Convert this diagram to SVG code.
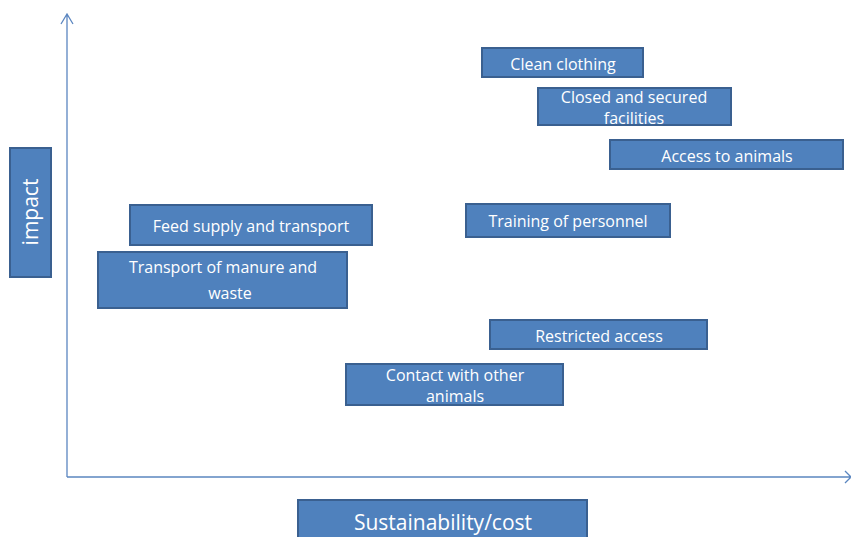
<svg xmlns="http://www.w3.org/2000/svg" width="851" height="537" viewBox="0 0 851 537">
<style>
.box{fill:#4F81BD;stroke:#3A6090;stroke-width:2}
.t{font-family:"Open Sans","Liberation Sans",sans-serif;font-size:16px;fill:#fff;text-anchor:middle}
.big{font-size:21px}
.ax{stroke:#5B86C0;stroke-width:1.3;fill:none}
</style>
<rect width="851" height="537" fill="#fff"/>
<g id="axes">
<path class="ax" d="M67,477 V14 M61,24 L67,14 L73,24"/>
<path class="ax" d="M67,477 H850 M845,471 L851,477 L845,483"/>
</g>
<g id="impact"><rect class="box" x="10" y="148" width="41" height="129"/><text class="t big" transform="translate(38,212) rotate(-90)">impact</text></g>
<g id="sustainability"><rect class="box" x="298" y="500" width="289" height="40"/><text class="t big" x="443" y="530">Sustainability/cost</text></g>
<g id="clean"><rect class="box" x="482" y="48" width="161" height="29"/><text class="t" x="563" y="70">Clean clothing</text></g>
<g id="closed"><rect class="box" x="538" y="88" width="193" height="37"/><text class="t" x="634" y="103">Closed and secured</text><text class="t" x="634" y="124">facilities</text></g>
<g id="access"><rect class="box" x="610" y="140" width="233" height="29"/><text class="t" x="727" y="162">Access to animals</text></g>
<g id="feed"><rect class="box" x="130" y="205" width="242" height="40"/><text class="t" x="251" y="232">Feed supply and transport</text></g>
<g id="manure"><rect class="box" x="98" y="252" width="249" height="56"/><text class="t" x="223" y="273">Transport of manure and</text><text class="t" x="230" y="299">waste</text></g>
<g id="training"><rect class="box" x="466" y="204" width="204" height="33"/><text class="t" x="568" y="227">Training of personnel</text></g>
<g id="restricted"><rect class="box" x="490" y="320" width="217" height="29"/><text class="t" x="599" y="342">Restricted access</text></g>
<g id="contact"><rect class="box" x="346" y="364" width="217" height="41"/><text class="t" x="455" y="381">Contact with other</text><text class="t" x="455" y="402">animals</text></g>
</svg>
